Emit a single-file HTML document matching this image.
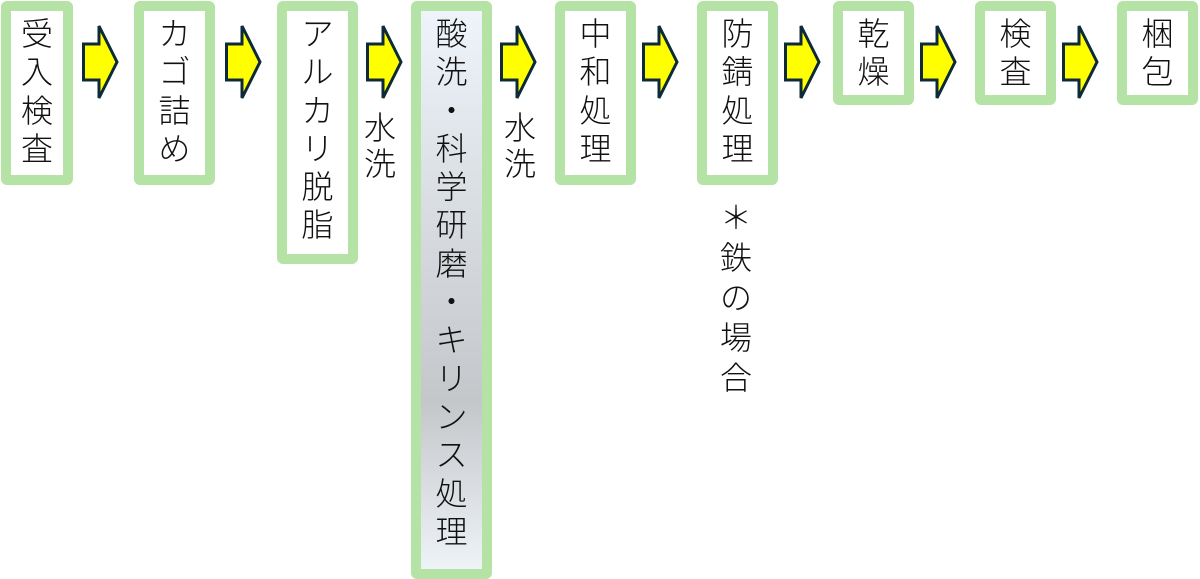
<!DOCTYPE html>
<html><head><meta charset="utf-8"><style>
body{margin:0;width:1200px;height:579px;background:#fff;position:relative;overflow:hidden;font-family:"Liberation Sans","Noto Sans CJK JP",sans-serif;color:#111}
.b{position:absolute;box-sizing:border-box;border:10px solid #b5e3a5;border-radius:6px;background:#fff;text-align:center;font-size:32px;line-height:38.3px;padding-top:4px;font-weight:300}
.a{position:absolute;top:24px}
.t{position:absolute;text-align:center;font-size:32px;line-height:38px;font-weight:300;width:40px}
</style></head><body>
<div class="b" style="left:1px;top:1px;width:72px;height:184px">受<br>入<br>検<br>査</div>
<div class="b" style="left:134px;top:1px;width:81px;height:184px">カ<br>ゴ<br>詰<br>め</div>
<div class="b" style="left:277px;top:1px;width:81px;height:263px">ア<br>ル<br>カ<br>リ<br>脱<br>脂</div>
<div class="b" style="left:411px;top:1px;width:81px;height:578px;background:linear-gradient(#eef4fa 0%,#c4c7ca 70%,#eef3f7 100%);background-clip:padding-box">酸<br>洗<br>・<br>科<br>学<br>研<br>磨<br>・<br>キ<br>リ<br>ン<br>ス<br>処<br>理</div>
<div class="b" style="left:555px;top:1px;width:81px;height:184px">中<br>和<br>処<br>理</div>
<div class="b" style="left:697px;top:1px;width:81px;height:184px">防<br>錆<br>処<br>理</div>
<div class="b" style="left:833px;top:1px;width:81px;height:104px">乾<br>燥</div>
<div class="b" style="left:975px;top:1px;width:81px;height:104px">検<br>査</div>
<div class="b" style="left:1117px;top:1px;width:81px;height:104px">梱<br>包</div>
<svg width="0" height="0" style="position:absolute"><defs><g id="ar"><polygon points="1.5,20 17,20 17,2 35,38 17,74 17,56 1.5,56" fill="#ffff00" stroke="#0e2a38" stroke-width="3" stroke-linejoin="miter"/></g></defs></svg>
<svg class="a" style="left:82px" width="37" height="76"><use href="#ar"/></svg>
<svg class="a" style="left:225px" width="37" height="76"><use href="#ar"/></svg>
<svg class="a" style="left:366px" width="37" height="76"><use href="#ar"/></svg>
<svg class="a" style="left:500px" width="37" height="76"><use href="#ar"/></svg>
<svg class="a" style="left:642px" width="37" height="76"><use href="#ar"/></svg>
<svg class="a" style="left:784px" width="37" height="76"><use href="#ar"/></svg>
<svg class="a" style="left:920px" width="37" height="76"><use href="#ar"/></svg>
<svg class="a" style="left:1062px" width="37" height="76"><use href="#ar"/></svg>
<div class="t" style="left:360px;top:110px;line-height:36px">水<br>洗</div>
<div class="t" style="left:500px;top:110px;line-height:36px">水<br>洗</div>
<div class="t" style="left:716px;top:198px;line-height:40px">＊<br>鉄<br>の<br>場<br>合</div>
</body></html>
